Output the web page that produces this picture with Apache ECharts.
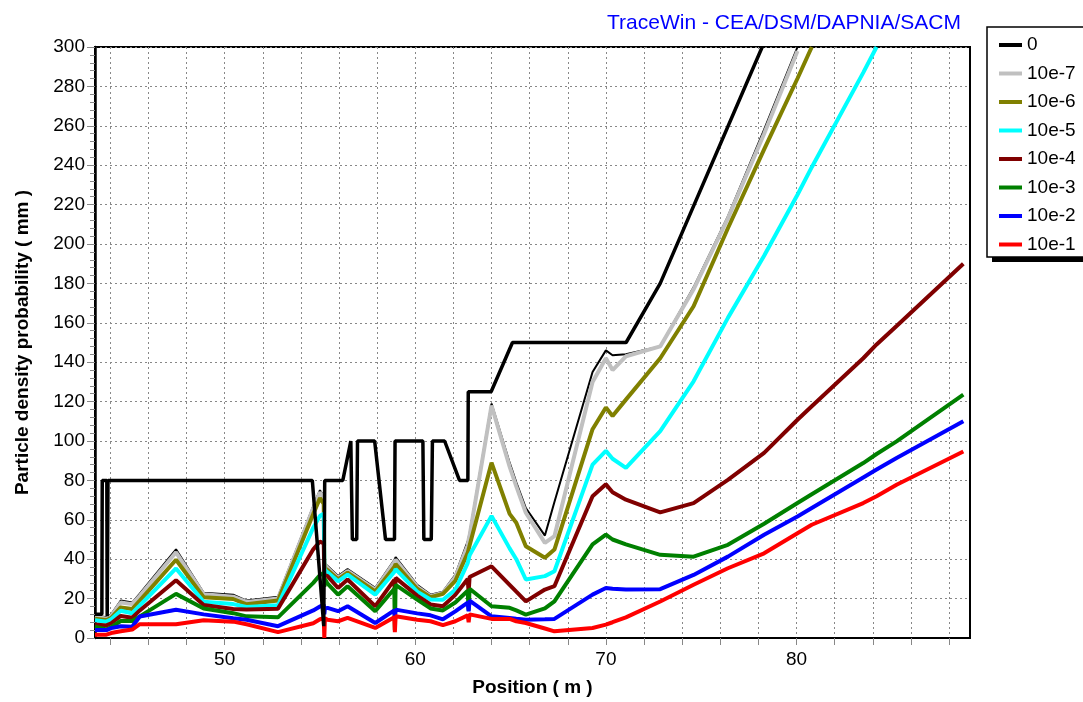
<!DOCTYPE html>
<html>
<head>
<meta charset="utf-8">
<title>Particle density probability</title>
<script src="https://cdn.jsdelivr.net/npm/echarts@6/dist/echarts.min.js"></script>
<style>
  html, body { margin: 0; padding: 0; background: #fff; }
  #chart { width: 1083px; height: 702px; }
</style>
</head>
<body>
<div id="chart"></div>
<script>
// positions (m) shared by the probability curves
const positions = [43.2, 43.8, 44.05, 44.55, 45.15, 45.55, 47.45, 48.9, 50.45, 51.15,
  52.8, 54.65, 55.0, 55.2, 55.23, 55.26, 55.4, 55.95, 56.45, 57.9,
  58.9, 58.93, 58.97, 60.1, 60.8, 61.45, 62.1, 62.75, 62.8, 62.85,
  64.0, 64.95, 65.3, 65.8, 66.8, 67.3, 69.3, 70.0, 70.35, 71.05,
  72.85, 74.6, 76.4, 78.3, 80.05, 80.8, 83.5, 84.2, 85.25, 88.75];

// curve values (mm), null = above the plot
const level0 = [11.5, 10.5, 12, 19, 18, 22.5, 45, 23, 22, 19,
  21, 67, 75, 72, 41, 38, 36.5, 31.5, 35, 25.5,
  39.5, 40.5, 41, 27, 22, 23.5, 32, 49, 51, 53,
  119, 89, 79, 66, 52, 69, 135, 146, 143.5, 144,
  148, 178, 214, 258, 300, null, null, null, null, null];
const level7 = [10.9, 9.8, 11.2, 18, 17.2, 21.4, 43.5, 22.2, 21, 18.3,
  20, 66, 74, 71, 40, 37, 35.6, 30.5, 34, 24.6,
  38.5, 39, 39.7, 26, 21.2, 22.9, 31, 47, 50, 52,
  118, 87, 77, 63.6, 48.3, 51.7, 130, 142, 136, 143,
  148, 177, 213, 256, 298, null, null, null, null, null];
const level6 = [9.8, 9.1, 10.2, 15.5, 14.7, 19, 39.7, 20.7, 19.8, 17.1,
  19, 63, 71, 68, 38, 35.5, 34.5, 29.8, 33.2, 23.6,
  36, 36.5, 37.5, 25, 20.7, 22.4, 29, 43.2, 45, 47,
  89, 63, 58.5, 46.6, 40.7, 44.9, 106, 117, 112.7, 121,
  142, 168.4, 208, 248, 284, 300, null, null, null, null];
const level5 = [9, 8.3, 9.5, 13.8, 12.6, 16.5, 35.3, 18.4, 17.2, 15.7,
  16.6, 56, 62, 63, 36, 34.5, 33.4, 28.8, 32.2, 22,
  33.5, 34, 35, 23.5, 19.5, 19.4, 24.4, 38, 40, 42,
  62, 45.5, 40, 29.7, 31.4, 33.9, 88, 95, 91, 86.4,
  105, 130.3, 162.5, 194, 225, 239, 287, 300, null, null];
const level4 = [6.9, 6.4, 7.5, 11.2, 10.3, 14, 29.3, 16.7, 14.7, 14.5,
  14.9, 45, 49, 48, 32, 31.5, 31.4, 25.4, 29.7, 16.1,
  29.5, 22, 30.5, 21.5, 17, 16.1, 21.9, 30, 23, 31,
  36.4, 27, 23.5, 18.6, 24.6, 26.3, 72, 78, 74, 70.2,
  63.8, 68.5, 80.3, 94, 110.8, 117.6, 142, 149, 158.4, 190];
const level3 = [5.7, 4.3, 5.5, 8.6, 8.6, 11, 22.4, 15, 12.6, 11,
  10.5, 28, 32, 33, 26, 30, 27.6, 22, 26.3, 13.6,
  25, 4, 27, 19.5, 15, 14, 18, 24, 14, 25,
  16.1, 15.3, 14, 11.9, 15, 18.6, 47.5, 52.5, 50, 47.5,
  42.2, 41.3, 47.3, 58, 68.5, 73, 88.8, 93.4, 99.8, 123.5];
const level2 = [4, 4, 5, 6, 5.7, 10.9, 14.3, 12, 10, 9.3,
  6, 14, 16, 17, 12, 15, 15.3, 13.6, 16.1, 7.6,
  14, 10, 14.4, 12.5, 11.5, 9.5, 13.5, 18, 13.6, 19,
  11, 10.2, 9.8, 9.3, 9.5, 9.7, 22, 25.4, 25, 24.6,
  24.8, 32, 41.3, 52.4, 61.7, 66, 81.5, 85.5, 91.4, 110];
const level1 = [1.7, 1.7, 2.5, 3.4, 4.3, 7, 7, 9, 8.3, 7,
  3, 7.5, 9.5, 10, 0, 10, 9.3, 8.5, 10.2, 5.1,
  10.5, 3, 11, 9.3, 8.5, 6.5, 8.5, 11.5, 8, 12,
  9.7, 9.7, 8.5, 7.6, 4.8, 3.4, 5.1, 6.8, 8, 10.5,
  18.5, 27, 35.4, 43, 53.2, 57.5, 68.5, 72, 77.8, 94.7];

// aperture step line
const aperturePos = [43.2, 43.56, 43.58, 43.82, 43.84, 43.86, 43.88, 54.6, 55.2, 55.25,
  56.2, 56.62, 56.7, 56.93, 56.97, 57.87, 58.44, 58.91, 58.94, 60.4,
  60.45, 60.84, 60.9, 61.54, 62.32, 62.76, 62.78, 63.98, 65.1, 71.06,
  72.85, 78.2];
const apertureVal = [12, 12, 80, 80, 11, 11, 80, 80, 6, 80,
  80, 100, 50, 50, 100, 100, 50, 50, 100, 100,
  50, 50, 100, 100, 80, 80, 125, 125, 150, 150,
  180, 300];

const legendNames = ['0', '10e-7', '10e-6', '10e-5', '10e-4', '10e-3', '10e-2', '10e-1'];
const colors = ['#000000', '#c0c0c0', '#808000', '#00ffff', '#800000', '#008000', '#0000ff', '#ff0000'];
const xLabels = [50, 60, 70, 80];
const xTicks = [44, 46, 48, 50, 52, 54, 56, 58, 60, 62, 64, 66, 68, 70, 72, 74, 76, 78, 80, 82, 84, 86, 88];

const levels = [level0, level7, level6, level5, level4, level3, level2, level1];

function pairs(xs, ys) {
  const out = [];
  for (let i = 0; i < xs.length; i++) {
    if (ys[i] !== null) out.push([xs[i], ys[i]]);
  }
  return out;
}

const font = 'Liberation Sans, Arial, sans-serif';

let series = levels.map(function (vals, i) {
  return {
    name: legendNames[i],
    type: 'line',
    symbol: 'none',
    animation: false,
    data: pairs(positions, vals),
    lineStyle: { color: colors[i], width: i === 0 ? 2 : 4 },
    itemStyle: { color: colors[i] }
  };
});
series.push({
  name: 'aperture',
  type: 'line',
  symbol: 'none',
  animation: false,
  data: pairs(aperturePos, apertureVal),
  lineStyle: { color: '#000', width: 3.5 }
});

let chart = echarts.init(document.getElementById('chart'));
chart.setOption({
  backgroundColor: '#fff',
  animation: false,
  title: {
    text: 'TraceWin - CEA/DSM/DAPNIA/SACM',
    left: 602, top: 8,
    textStyle: { color: '#0000ff', fontSize: 21, fontWeight: 'normal', fontFamily: font }
  },
  graphic: [{
    // legend box drop shadow
    type: 'rect',
    shape: { x: 992, y: 32, width: 130, height: 230 },
    style: { fill: '#000' },
    z: 1
  }, {
    type: 'rect',
    shape: { x: 987, y: 27, width: 130, height: 230 },
    style: { fill: '#fff', stroke: '#000', lineWidth: 1.5 },
    z: 2
  }],
  legend: {
    data: legendNames,
    orient: 'vertical',
    left: 994, top: 30,
    icon: 'rect',
    itemWidth: 23, itemHeight: 4, itemGap: 8.5,
    borderWidth: 0,
    textStyle: { fontSize: 19, lineHeight: 20, color: '#000', fontFamily: font },
    z: 5
  },
  grid: {
    left: 95, right: 113, top: 47, bottom: 64,
    show: true, borderColor: '#000', borderWidth: 2, backgroundColor: 'transparent'
  },
  xAxis: {
    type: 'value',
    min: 43.2, max: 89.1,
    name: 'Position ( m )',
    nameLocation: 'middle', nameGap: 40,
    nameTextStyle: { fontSize: 19, fontWeight: 'bold', color: '#000', fontFamily: font },
    axisLine: { lineStyle: { color: '#000', width: 2 } },
    axisTick: { show: true, customValues: xTicks, length: 7, lineStyle: { color: '#888' } },
    axisLabel: { customValues: xLabels, fontSize: 19, color: '#000', margin: 12, fontFamily: font },
    splitLine: { show: true, lineStyle: { color: '#888', type: [2, 3], width: 1 } }
  },
  yAxis: {
    type: 'value',
    min: 0, max: 300, interval: 20,
    name: 'Particle density probability ( mm )',
    nameLocation: 'middle', nameGap: 63,
    nameTextStyle: { fontSize: 19, fontWeight: 'bold', color: '#000', fontFamily: font },
    axisLine: { show: true, lineStyle: { color: '#000', width: 2.5 } },
    axisTick: { show: true, length: 8, lineStyle: { color: '#888' } },
    minorTick: { show: true, splitNumber: 5, length: 5, lineStyle: { color: '#888' } },
    axisLabel: { fontSize: 19, color: '#000', margin: 10, fontFamily: font },
    splitLine: { show: true, lineStyle: { color: '#888', type: [2, 3], width: 1 } }
  },
  series: series
});
</script>
</body>
</html>
